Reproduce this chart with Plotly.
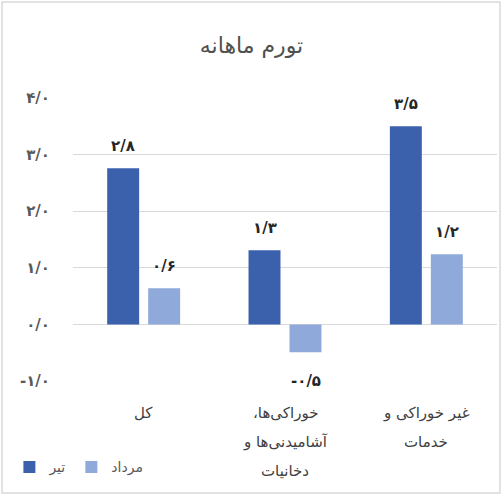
import plotly.graph_objects as go

title_text = "تورم ماهانه"
category_lines = [
    ["کل"],
    ["خوراکی\u200cها،\u200f", "آشامیدنی\u200cها و", "دخانیات"],
    ["غیر خوراکی و", "خدمات"],
]
categories = [" ".join(lines) for lines in category_lines]
series_names = ["تیر", "مرداد"]
tir = [2.76, 1.31, 3.5]
mordad = [0.64, -0.49, 1.24]
tick_values = [-1, 0, 1, 2, 3, 4]

colors = ["#3B61AD", "#8FA9DA"]
FONT = "DejaVu Sans"

P = str.maketrans("0123456789.", "۰۱۲۳۴۵۶۷۸۹/")


def fa(v):
    return f"{v:.1f}".translate(P)


fig = go.Figure()
for name, vals, col in zip(series_names, [tir, mordad], colors):
    fig.add_trace(go.Bar(x=categories, y=vals, name=name, marker_color=col,
                         marker_line_width=0, hoverinfo="skip"))

annotations = []
# data labels
offsets = [-20.5, 20.5]
for vals, dx in zip([tir, mordad], offsets):
    for c, v in zip(categories, vals):
        annotations.append(dict(
            x=c, y=v, xref="x", yref="y", text=fa(v), showarrow=False,
            xshift=dx, yshift=22 if v >= 0 else -29,
            font=dict(family=FONT, size=15, color="#262626", weight="bold"),
        ))
# category labels
for c, lines in zip(categories, category_lines):
    for i, line in enumerate(lines):
        annotations.append(dict(
            x=c, y=0, xref="x", yref="paper", text=line, showarrow=False,
            yanchor="middle", yshift=-32 - 29 * i,
            font=dict(family=FONT, size=15, color="#404040"),
        ))

fig.update_layout(
    width=503, height=496,
    margin=dict(l=73, r=6, t=98, b=115),
    paper_bgcolor="white", plot_bgcolor="white",
    title=dict(text=title_text, x=0.5, xanchor="center", y=1 - 45 / 496,
               yanchor="middle",
               font=dict(family=FONT, size=22, color="#505050")),
    barmode="group", bargap=0.42, bargroupgap=0.22,
    showlegend=True,
    legend=dict(orientation="h", x=-0.15, xanchor="left", y=-0.305,
                yanchor="middle", font=dict(family=FONT, size=14, color="#595959"),
                bgcolor="rgba(0,0,0,0)"),
    annotations=annotations,
    shapes=[dict(type="rect", xref="paper", yref="paper",
                 x0=-0.1675, x1=1.007, y0=-0.396, y1=1.339,
                 line=dict(color="#d9d9d9", width=1.5), layer="below")],
)
fig.update_xaxes(showticklabels=False, showgrid=False, showline=False,
                 zeroline=False, fixedrange=True)
fig.update_yaxes(range=[-1, 4], tickvals=tick_values,
                 ticktext=[fa(v) for v in tick_values],
                 showgrid=True, gridcolor="#d9d9d9", gridwidth=1,
                 zeroline=False, showline=False, ticklabelstandoff=22,
                 tickfont=dict(family=FONT, size=15, color="#595959", weight="bold"))

fig.write_html("out.html", config={"displayModeBar": False},
               post_script="document.body.style.margin='0';")
